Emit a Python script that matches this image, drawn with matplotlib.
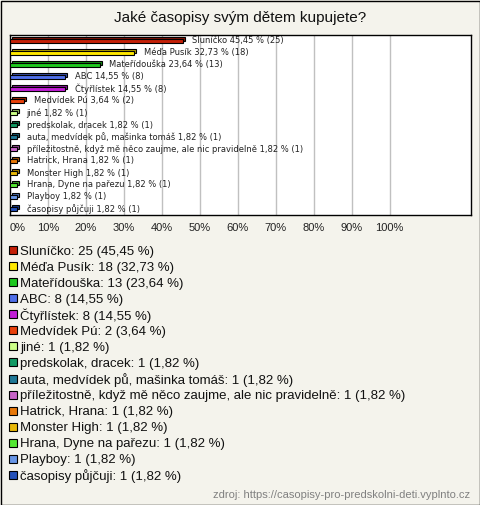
import matplotlib
matplotlib.use('Agg')
import matplotlib.pyplot as plt
import matplotlib.transforms as mtransforms
from matplotlib.patches import Rectangle
import numpy as np

# data
labels = ['Sluníčko', 'Méďa Pusík', 'Mateřídouška', 'ABC', 'Čtyřlístek',
          'Medvídek Pú', 'jiné', 'predskolak, dracek',
          'auta, medvídek pů, mašinka tomáš',
          'příležitostně, když mě něco zaujme, ale nic pravidelně',
          'Hatrick, Hrana', 'Monster High', 'Hrana, Dyne na pařezu',
          'Playboy', 'časopisy půjčuji']
counts = [25, 18, 13, 8, 8, 2, 1, 1, 1, 1, 1, 1, 1, 1, 1]
percents = [45.45, 32.73, 23.64, 14.55, 14.55, 3.64, 1.82, 1.82, 1.82,
            1.82, 1.82, 1.82, 1.82, 1.82, 1.82]
colors = ['#c42008', '#ffe800', '#1ec81e', '#4f6fe8', '#c21ed6',
          '#e8400a', '#ccff88', '#129a64', '#1f7896', '#c864c8',
          '#e87808', '#e8b808', '#55e833', '#6896e6', '#2450b8']
xticks = [0, 10, 20, 30, 40, 50, 60, 70, 80, 90, 100]

W, H = 480, 505
bg = '#f4f3ec'
fig = plt.figure(figsize=(W / 100, H / 100), dpi=100, facecolor=bg)
ax = fig.add_axes([10 / W, 1 - 215 / H, 461 / W, 180 / H])
ax.set_facecolor('white')

y = np.arange(len(labels))

def darker(c, f=0.7):
    r, g, b = matplotlib.colors.to_rgb(c)
    return (r * f, g * f, b * f)

# 3d-ish bars: a shifted back face, then the front face
back = mtransforms.offset_copy(ax.transData, fig, x=2, y=2, units='dots')
ax.barh(y, percents, height=0.4, color=[darker(c) for c in colors],
        edgecolor='black', linewidth=0.8, transform=back, zorder=2)
ax.barh(y, percents, height=0.4, color=colors, edgecolor='black',
        linewidth=0.8, zorder=3)

for yi, lab, p, c in zip(y, labels, percents, counts):
    txt = f"{lab} {p:.2f} % ({c})".replace('.', ',')
    ax.annotate(txt, (p, yi), xytext=(7, 0), textcoords='offset points',
                va='center', ha='left', fontsize=6, color='#222222',
                family='DejaVu Sans', zorder=4)

ax.set_xlim(0, 121.4)
ax.set_ylim(len(labels) - 0.5, -0.5)
ax.set_xticks(xticks)
ax.set_xticklabels([f"{t}%" for t in xticks], family='Liberation Sans',
                   fontsize=8, color='#222222')
ax.get_xticklabels()[0].set_ha('left')
ax.tick_params(axis='x', length=0, pad=6)
ax.set_yticks([])
ax.grid(axis='x', color='#c0c0c0', linewidth=1, zorder=0)
ax.set_axisbelow(True)
for s in ax.spines.values():
    s.set_color('black')
    s.set_linewidth(1)

fig.text(0.5, 1 - 18 / H, 'Jaké časopisy svým dětem kupujete?',
         ha='center', va='center', fontsize=11, family='Liberation Sans',
         color='#111111')

# legend rows below the chart
row0, step = 250, 16.07
for i, (lab, c, p, col) in enumerate(zip(labels, counts, percents, colors)):
    yc = row0 + i * step
    fig.patches.append(Rectangle((9 / W, 1 - (yc + 4) / H), 8 / W, 8 / H,
                                 transform=fig.transFigure, facecolor=col,
                                 edgecolor='black', linewidth=0.8))
    txt = f"{lab}: {c} ({p:.2f} %)".replace('.', ',')
    fig.text(20 / W, 1 - yc / H, txt, ha='left', va='center_baseline',
             fontsize=9.5, family='Liberation Sans', color='#111111')

fig.text(470 / W, 1 - 495 / H,
         'zdroj: https://casopisy-pro-predskolni-deti.vyplnto.cz',
         ha='right', va='center', fontsize=8, family='Liberation Sans',
         color='#808080')

# thin frame around the whole picture
fig.patches.append(Rectangle((0.5 / W, 0.5 / H), 479 / W, 504 / H,
                             transform=fig.transFigure, fill=False,
                             edgecolor='black', linewidth=1))

fig.savefig('out.png', dpi=100, facecolor=bg)
